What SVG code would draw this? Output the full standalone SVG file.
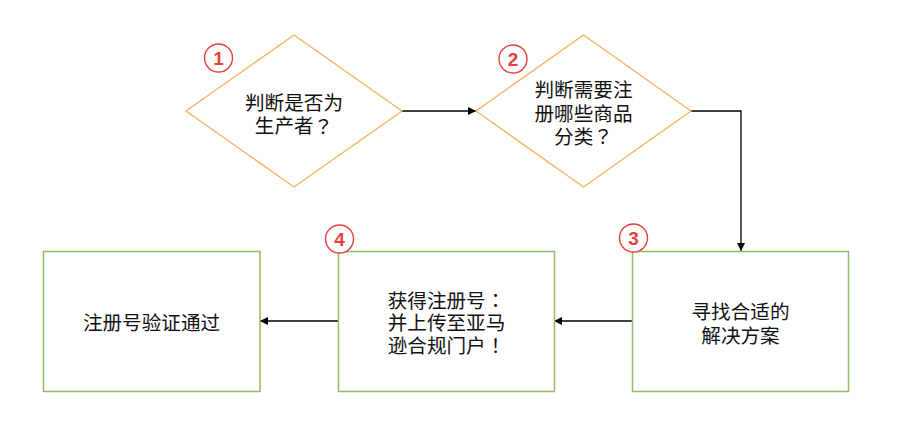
<svg xmlns="http://www.w3.org/2000/svg" width="900" height="448" viewBox="0 0 900 448">
<style>
.dia{fill:#fff;stroke:#F5B15C;stroke-width:1.3}
.box{fill:#fff;stroke:#93BC6A;stroke-width:1.5}
.t{font-family:"Noto Sans CJK SC","Noto Sans",sans-serif;font-size:19.6px;fill:#111;text-anchor:middle;dominant-baseline:central}
.p{font-family:"Noto Sans CJK TC","Noto Sans CJK SC",sans-serif}
.num circle{fill:#fff;stroke:#E8403A;stroke-width:1.4}
.num text{font-family:"Liberation Sans","DejaVu Sans",sans-serif;font-size:19px;font-weight:bold;fill:#E8403A;text-anchor:middle;dominant-baseline:central}
.c{fill:none;stroke:#000;stroke-width:1.3}
</style>
<defs>
<marker id="ah" viewBox="0 0 10 10" refX="10" refY="5" markerWidth="8" markerHeight="8" markerUnits="userSpaceOnUse" orient="auto">
<path d="M0,0 L10,5 L0,10 z" fill="#000"/>
</marker>
</defs>
<rect width="900" height="448" fill="#fff"/>
<g id="connectors">
<path class="c" d="M402,111 L476,111" marker-end="url(#ah)"/>
<path class="c" d="M691,111 L741,111 L741,251" marker-end="url(#ah)"/>
<path class="c" d="M632,321 L554,321" marker-end="url(#ah)"/>
<path class="c" d="M338,321 L260,321" marker-end="url(#ah)"/>
</g>
<g id="n1">
<polygon class="dia" points="294,35 402,111 294,187 186,111"/>
<text class="t" x="294" y="101.5">判断是否为</text>
<text class="t" x="294" y="124.5">生产者<tspan class="p">？</tspan></text>
</g>
<g id="n2">
<polygon class="dia" points="583.5,35 691,111 583.5,187 476,111"/>
<text class="t" x="583.5" y="88.5">判断需要注</text>
<text class="t" x="583.5" y="112">册哪些商品</text>
<text class="t" x="583.5" y="135">分类<tspan class="p">？</tspan></text>
</g>
<g id="n3">
<rect class="box" x="632.5" y="251.5" width="216" height="140"/>
<text class="t" x="740.5" y="310">寻找合适的</text>
<text class="t" x="740.5" y="334">解决方案</text>
</g>
<g id="n4">
<rect class="box" x="338.5" y="251.5" width="216" height="140"/>
<text class="t" x="446.5" y="299">获得注册号<tspan class="p">：</tspan></text>
<text class="t" x="446.5" y="321.5">并上传至亚马</text>
<text class="t" x="446.5" y="344">逊合规门户<tspan class="p">！</tspan></text>
</g>
<g id="n5">
<rect class="box" x="43.5" y="251.5" width="216.5" height="140"/>
<text class="t" x="151.5" y="321.5">注册号验证通过</text>
</g>
<g id="b1" class="num"><circle cx="218.5" cy="58" r="14"/><text x="218.5" y="58.5">1</text></g>
<g id="b2" class="num"><circle cx="513" cy="59" r="14"/><text x="513" y="59.5">2</text></g>
<g id="b3" class="num"><circle cx="633.5" cy="238" r="14"/><text x="633.5" y="238.5">3</text></g>
<g id="b4" class="num"><circle cx="339.5" cy="239" r="14"/><text x="339.5" y="239.5">4</text></g>
</svg>
